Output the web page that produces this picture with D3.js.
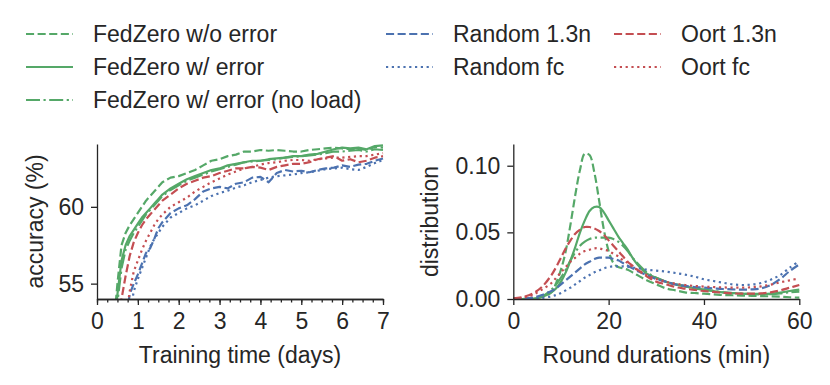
<!DOCTYPE html>
<html><head><meta charset="utf-8">
<script src="https://cdn.jsdelivr.net/npm/d3@7"></script>
<style>
html,body{margin:0;padding:0;background:#fff;}
svg text{font-family:"Liberation Sans",Arial,sans-serif;fill:#262626;}
</style></head>
<body><svg id="c" width="830" height="385"></svg>
<script>
// ---------- data ----------
const seriesNames = ["FedZero w/o error","FedZero w/ error","FedZero w/ error (no load)","Random 1.3n","Random fc","Oort 1.3n","Oort fc"];
const seriesColors = ["#55A868","#55A868","#55A868","#4C72B0","#4C72B0","#C44E52","#C44E52"];
const seriesStyles = ["dashed","solid","dashdot","dashed","dotted","dashed","dotted"];

const days = [0.3,0.4,0.5,0.6,0.7,0.8,0.9,1.0,1.1,1.2,1.3,1.4,1.5,1.6,1.8,2.0,2.2,2.4,2.6,2.8,3.0,3.2,3.4,3.6,3.8,4.0,4.2,4.4,4.6,4.8,5.0,5.2,5.4,5.6,5.8,6.0,6.2,6.4,6.6,6.8,7.0];
const accFedZeroNoErr = [50,52,55,57.5,58.3,58.8,59.2,59.6,60.0,60.4,60.7,61.0,61.3,61.6,61.9,62.0,62.2,62.4,62.7,63.0,63.1,63.3,63.4,63.6,63.6,63.7,63.65,63.7,63.65,63.6,63.6,63.7,63.75,63.8,63.85,63.8,63.75,63.8,63.7,63.9,63.85];
const accFedZeroErr = [49,51,54.3,56.5,57.5,58.1,58.5,58.9,59.3,59.6,59.9,60.2,60.5,60.8,61.2,61.5,61.8,62.0,62.2,62.4,62.5,62.7,62.8,62.9,63.0,63.0,63.1,63.15,63.2,63.3,63.3,63.4,63.45,63.6,63.75,63.85,63.8,63.85,63.75,63.95,64.0];
const accFedZeroNoLoad = [48.5,50.5,53.8,56.0,57.2,57.8,58.3,58.7,59.1,59.5,59.8,60.1,60.4,60.7,61.1,61.4,61.7,61.9,62.1,62.3,62.45,62.6,62.75,62.9,62.95,63.0,63.05,63.1,63.2,63.25,63.3,63.35,63.4,63.5,63.6,63.6,63.65,63.7,63.6,63.75,63.7];
const accRandom13 = [44,46,48,50,52.5,54.3,55.0,55.6,56.3,57.0,57.3,57.9,58.6,59.0,59.6,59.9,60.1,60.5,61.0,61.2,61.3,61.2,61.5,61.6,61.9,61.95,61.6,62.2,62.4,62.3,62.35,62.25,62.4,62.5,62.55,62.7,62.6,62.75,62.8,63.0,63.15];
const accRandomFc = [43,45,47,49,51,53,54.5,55.3,56.0,56.7,57.4,57.9,58.3,58.7,59.3,59.6,59.9,60.1,60.4,60.7,60.9,61.05,61.25,61.4,61.6,61.75,61.9,62.0,62.05,62.1,62.2,62.25,62.35,62.45,62.5,62.55,62.45,62.4,62.6,62.85,63.05];
const accOort13 = [46,48,51,54.0,55.5,56.8,57.7,58.3,58.8,59.2,59.5,59.8,60.1,60.4,60.8,61.2,61.5,61.7,61.9,62.0,62.2,62.35,62.5,62.5,62.6,62.55,62.4,62.6,62.7,62.8,62.8,62.9,63.1,63.2,63.3,63.0,63.1,62.9,63.0,63.2,63.3];
const accOortFc = [44,46,48,50,52.5,54.5,55.8,56.5,57.2,57.8,58.3,58.8,59.2,59.5,60.0,60.3,60.6,61.0,61.3,61.6,61.85,62.1,62.3,62.5,62.6,62.75,62.85,62.9,63.0,63.05,63.05,63.0,63.1,63.15,63.2,63.2,63.25,63.3,63.3,63.4,63.5];

const minutes = [0,2,4,6,8,9,10,11,12,13,14,15,16,17,18,19,20,21,22,23,24,25,26,28,30,32,34,36,38,40,42,44,46,48,50,52,54,56,58,60];
const distFedZeroNoErr = [0,0,0.0003,0.0015,0.005,0.012,0.022,0.036,0.056,0.078,0.097,0.109,0.108,0.095,0.074,0.052,0.036,0.027,0.024,0.023,0.022,0.020,0.018,0.014,0.011,0.008,0.0065,0.005,0.0045,0.004,0.0035,0.003,0.0028,0.0026,0.0024,0.0022,0.002,0.0017,0.0013,0.001];
const distFedZeroErr = [0,0,0.0003,0.0015,0.005,0.008,0.013,0.02,0.029,0.039,0.05,0.059,0.066,0.069,0.069,0.065,0.059,0.053,0.047,0.042,0.037,0.031,0.026,0.019,0.016,0.013,0.011,0.0095,0.008,0.007,0.006,0.005,0.0045,0.004,0.0038,0.0038,0.004,0.0048,0.006,0.007];
const distFedZeroNoLoad = [0,0,0.0005,0.002,0.007,0.011,0.016,0.022,0.029,0.035,0.040,0.043,0.045,0.046,0.046,0.046,0.046,0.045,0.043,0.040,0.036,0.031,0.027,0.020,0.016,0.013,0.011,0.0095,0.008,0.007,0.006,0.005,0.0045,0.004,0.0037,0.0035,0.0037,0.0042,0.005,0.0055];
const distRandom13 = [0,0.0003,0.001,0.003,0.006,0.008,0.011,0.014,0.017,0.020,0.023,0.026,0.028,0.030,0.031,0.031,0.031,0.030,0.029,0.027,0.025,0.023,0.021,0.018,0.015,0.013,0.011,0.0098,0.009,0.0085,0.008,0.0075,0.0072,0.007,0.0072,0.008,0.0105,0.015,0.021,0.026];
const distRandomFc = [0,0,0.0002,0.0008,0.002,0.003,0.0045,0.0065,0.0085,0.011,0.0135,0.016,0.018,0.020,0.0215,0.023,0.024,0.0245,0.0245,0.0245,0.024,0.0237,0.0232,0.022,0.0213,0.0205,0.0195,0.0183,0.0168,0.0148,0.0135,0.0122,0.011,0.0105,0.0108,0.012,0.0145,0.018,0.0235,0.0285];
const distOort13 = [0.0005,0.0015,0.004,0.009,0.018,0.024,0.031,0.038,0.044,0.049,0.052,0.054,0.054,0.053,0.051,0.048,0.044,0.040,0.036,0.032,0.028,0.025,0.022,0.017,0.013,0.011,0.009,0.0078,0.0068,0.006,0.0053,0.0047,0.0042,0.004,0.004,0.0042,0.005,0.0065,0.0085,0.0105];
const distOortFc = [0.0003,0.001,0.003,0.007,0.012,0.016,0.02,0.024,0.028,0.031,0.034,0.036,0.037,0.038,0.038,0.037,0.036,0.034,0.032,0.029,0.027,0.024,0.022,0.018,0.015,0.013,0.0115,0.0105,0.0098,0.0093,0.009,0.0087,0.0085,0.0085,0.0088,0.0095,0.0108,0.0125,0.014,0.0155];

const accSeries = [accFedZeroNoErr,accFedZeroErr,accFedZeroNoLoad,accRandom13,accRandomFc,accOort13,accOortFc];
const distSeries = [distFedZeroNoErr,distFedZeroErr,distFedZeroNoLoad,distRandom13,distRandomFc,distOort13,distOortFc];

const accTicks = [55,60];
const dayTicks = [0,1,2,3,4,5,6,7];
const dayMinorTicks = d3.range(0,7.001,0.25);
const distTicks = [0,0.05,0.10];
const minTicks = [0,20,40,60];

// ---------- drawing ----------
const svg = d3.select("#c");
const FS = 23;
const ink = "#262626";
const LW = 2.2;
const dashMap = {dashed:"8.1,3.5", dotted:"2.2,3.6", dashdot:"14,3.5,2.2,3.5", solid:null};

const yTop = 144, yBottom = 299;
const xL = d3.scaleLinear().domain([0,7]).range([97,383]);
const yL = d3.scaleLinear().domain([54,64.09]).range([yBottom,yTop]);
const xR = d3.scaleLinear().domain([0,60]).range([513.3,799.3]);
const yR = d3.scaleLinear().domain([0,0.1163]).range([yBottom,yTop]);

const defs = svg.append("defs");
defs.append("clipPath").attr("id","clipL").append("rect")
  .attr("x",97).attr("y",yTop-5).attr("width",290).attr("height",yBottom-yTop+5);
defs.append("clipPath").attr("id","clipR").append("rect")
  .attr("x",513).attr("y",yTop-5).attr("width",290).attr("height",yBottom-yTop+5);

function styleAxis(g){
  g.selectAll("path.domain").attr("stroke",ink).attr("stroke-width",1.3);
  g.selectAll(".tick line").attr("stroke",ink).attr("stroke-width",1.3);
  g.selectAll(".tick text").attr("font-size",FS).attr("fill",ink)
    .attr("font-family","Liberation Sans, Arial, sans-serif");
}

// Left panel lines
const gL = svg.append("g").attr("clip-path","url(#clipL)");
accSeries.forEach((s,i)=>{
  const line = d3.line().x((d,j)=>xL(days[j])).y(d=>yL(d));
  gL.append("path").datum(s).attr("d",line).attr("fill","none")
    .attr("stroke",seriesColors[i]).attr("stroke-width",LW)
    .attr("stroke-dasharray",dashMap[seriesStyles[i]]).attr("stroke-linejoin","round");
});
// Right panel lines
const gR = svg.append("g").attr("clip-path","url(#clipR)");
distSeries.forEach((s,i)=>{
  const line = d3.line().x((d,j)=>xR(minutes[j])).y(d=>yR(d)).curve(d3.curveCatmullRom);
  gR.append("path").datum(s).attr("d",line).attr("fill","none")
    .attr("stroke",seriesColors[i]).attr("stroke-width",LW)
    .attr("stroke-dasharray",dashMap[seriesStyles[i]]).attr("stroke-linejoin","round");
});

// Left axes
const axL = svg.append("g").attr("transform",`translate(97,0)`)
  .call(d3.axisLeft(yL).tickValues(accTicks).tickFormat(d3.format("d")).tickSize(6).tickPadding(7).tickSizeOuter(0));
styleAxis(axL);
const axLbMinor = svg.append("g").attr("transform",`translate(0,${yBottom})`)
  .call(d3.axisBottom(xL).tickValues(dayMinorTicks).tickFormat("").tickSize(3.5).tickSizeOuter(0));
styleAxis(axLbMinor);
const axLb = svg.append("g").attr("transform",`translate(0,${yBottom})`)
  .call(d3.axisBottom(xL).tickValues(dayTicks).tickFormat(d3.format("d")).tickSize(6).tickPadding(8).tickSizeOuter(0));
styleAxis(axLb);

// Right axes
const axR = svg.append("g").attr("transform",`translate(513.3,0)`)
  .call(d3.axisLeft(yR).tickValues(distTicks).tickFormat(d3.format(".2f")).tickSize(6).tickPadding(7).tickSizeOuter(0));
styleAxis(axR);
const axRb = svg.append("g").attr("transform",`translate(0,${yBottom})`)
  .call(d3.axisBottom(xR).tickValues(minTicks).tickFormat(d3.format("d")).tickSize(6).tickPadding(8).tickSizeOuter(0));
styleAxis(axRb);

// Axis labels
svg.append("text").attr("x",xL(3.5)).attr("y",363).attr("text-anchor","middle").attr("font-size",FS).text("Training time (days)");
svg.append("text").attr("x",xR(30)).attr("y",363).attr("text-anchor","middle").attr("font-size",FS).text("Round durations (min)");
svg.append("text").attr("transform",`translate(43,${(yTop+yBottom)/2}) rotate(-90)`).attr("text-anchor","middle").attr("font-size",FS).text("accuracy (%)");
svg.append("text").attr("transform",`translate(438,${(yTop+yBottom)/2}) rotate(-90)`).attr("text-anchor","middle").attr("font-size",FS).text("distribution");

// Legend
const legendPos = [[26,34],[26,67],[26,100],[386,34],[386,67],[614,34],[614,67]];
seriesNames.forEach((name,i)=>{
  const [lx,ly] = legendPos[i];
  svg.append("line").attr("x1",lx).attr("x2",lx+47).attr("y1",ly).attr("y2",ly)
    .attr("stroke",seriesColors[i]).attr("stroke-width",LW)
    .attr("stroke-dasharray",dashMap[seriesStyles[i]]);
  svg.append("text").attr("x",lx+67).attr("y",ly+8.2).attr("font-size",FS).text(name);
});
</script></body></html>
